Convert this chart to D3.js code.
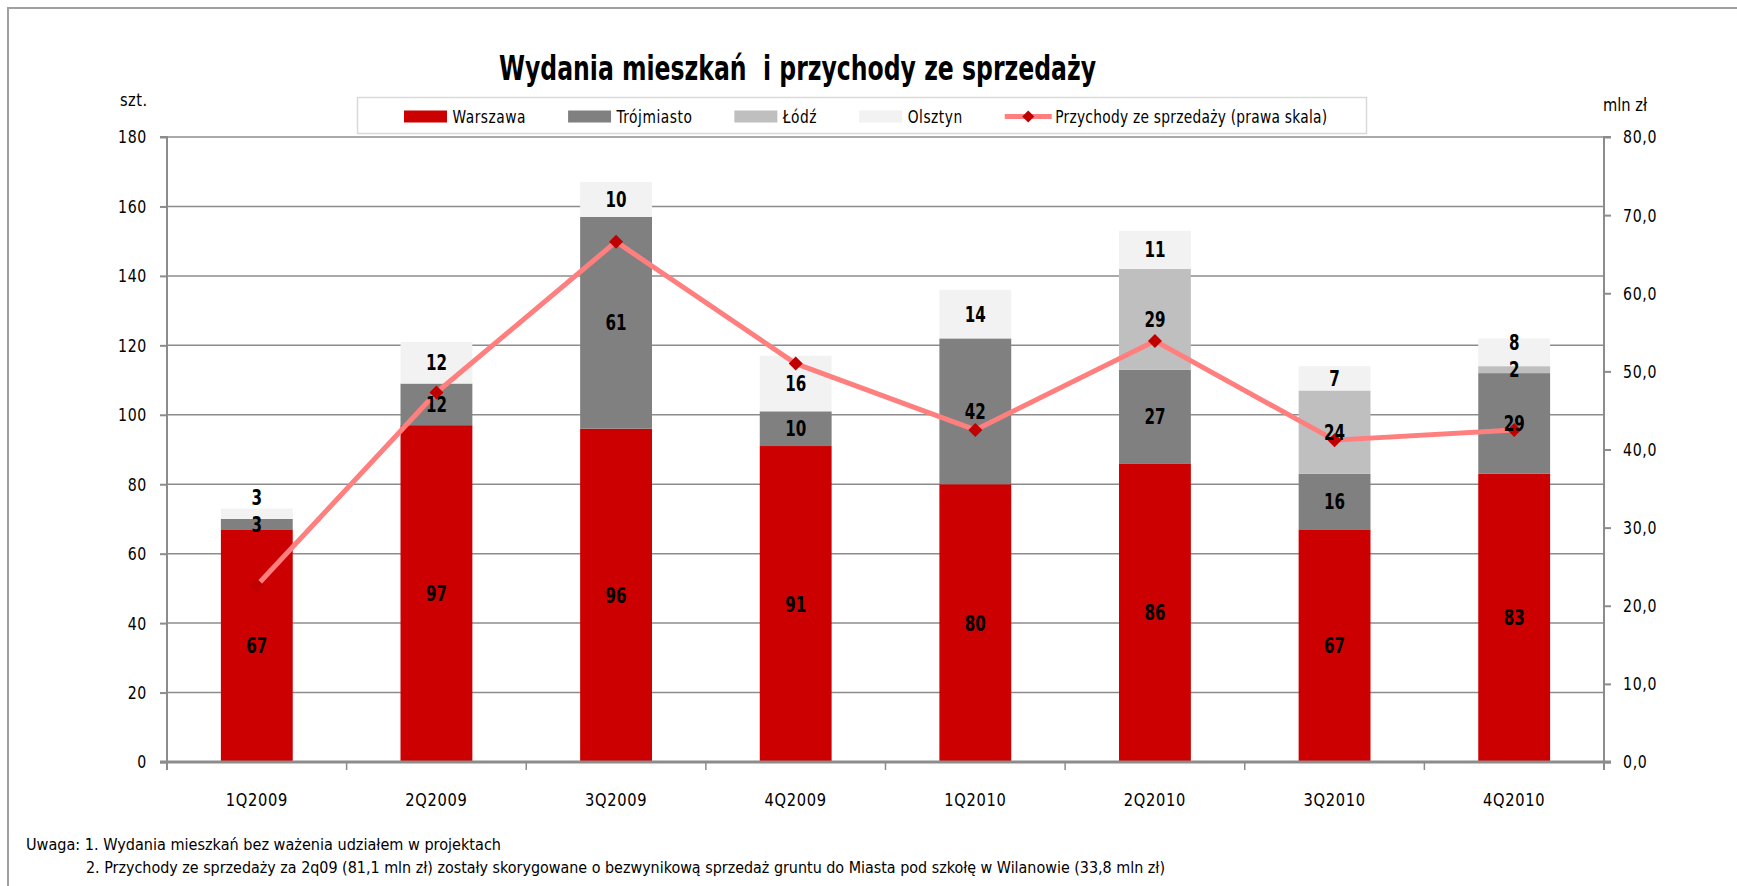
<!DOCTYPE html>
<html><head><meta charset="utf-8">
<script src="https://cdn.jsdelivr.net/npm/d3@7"></script>
<style>
html,body{margin:0;padding:0;background:#fff;overflow:hidden;}
svg{display:block;}
text{font-family:"Liberation Sans Narrow","DejaVu Sans Condensed","Arial Narrow",sans-serif;fill:#000;}
</style></head><body>
<svg id="chart" width="1737" height="886"></svg>
<script>
// ---- data ----
const categories = ["1Q2009","2Q2009","3Q2009","4Q2009","1Q2010","2Q2010","3Q2010","4Q2010"];
const warszawa   = [67, 97, 96, 91, 80, 86, 67, 83];
const trojmiasto = [3, 12, 61, 10, 42, 27, 16, 29];
const lodz       = [0, 0, 0, 0, 0, 29, 24, 2];
const olsztyn    = [3, 12, 10, 16, 14, 11, 7, 8];
const przychody  = [22.6, 47.3, 66.6, 51.0, 42.5, 53.9, 41.2, 42.5];
const seriesNames = ["Warszawa","Trójmiasto","Łódź","Olsztyn"];
const lineName = "Przychody ze sprzedaży (prawa skala)";
const leftTicks  = [0,20,40,60,80,100,120,140,160,180];
const rightTicks = [0,10,20,30,40,50,60,70,80];
const titleText = "Wydania mieszkań  i przychody ze sprzedaży";
const leftUnit = "szt.";
const rightUnit = "mln zł";
const note1 = "Uwaga: 1. Wydania mieszkań bez ważenia udziałem w projektach";
const note2 = "2. Przychody ze sprzedaży za 2q09 (81,1 mln zł) zostały skorygowane o bezwynikową sprzedaż gruntu do Miasta pod szkołę w Wilanowie (33,8 mln zł)";

// ---- styles ----
const colors = ["#CC0000","#808080","#BFBFBF","#F2F2F2"];
const lineColor = "#FF7F7F";
const markerColor = "#C00000";
const axisColor = "#8C8C8C";

// horizontally condense text glyphs (the original uses a condensed face)
function squeeze(sel, k){
  sel.each(function(){
    const len = this.getComputedTextLength();
    d3.select(this).attr("textLength", len*k).attr("lengthAdjust","spacingAndGlyphs");
  });
}

const svg = d3.select("#chart");
const plot = {left:167, right:1604, top:137, bottom:762};

// outer frame
svg.append("rect").attr("x",8).attr("y",8).attr("width",1760).attr("height",900)
  .attr("fill","none").attr("stroke","#A0A0A0").attr("stroke-width",2);

const x = d3.scaleBand().domain(categories).range([plot.left, plot.right])
  .paddingInner(0.6).paddingOuter(0.3);
const yL = d3.scaleLinear().domain([0,180]).range([plot.bottom, plot.top]);
const yR = d3.scaleLinear().domain([0,80]).range([plot.bottom, plot.top]);

// gridlines
svg.append("g").selectAll("line").data(leftTicks.filter(d=>d>0)).join("line")
  .attr("x1",plot.left).attr("x2",plot.right)
  .attr("y1",d=>yL(d)).attr("y2",d=>yL(d))
  .attr("stroke",axisColor).attr("stroke-width",1.5);

// stacked data
const table = categories.map((c,i)=>({cat:c, Warszawa:warszawa[i], "Trójmiasto":trojmiasto[i], "Łódź":lodz[i], Olsztyn:olsztyn[i]}));
const stack = d3.stack().keys(seriesNames)(table);

const barsG = svg.append("g");
stack.forEach((layer,si)=>{
  barsG.selectAll(null).data(layer).join("rect")
    .attr("x",d=>x(d.data.cat)).attr("width",x.bandwidth())
    .attr("y",d=>yL(d[1])).attr("height",d=>yL(d[0])-yL(d[1]))
    .attr("fill",colors[si]);
});

// axes
const fs = 18.5;
const lAxis = svg.append("g").attr("transform",`translate(${plot.left},0)`)
  .call(d3.axisLeft(yL).tickValues(leftTicks).tickSize(7).tickPadding(13).tickFormat(d3.format("d")));
const rAxis = svg.append("g").attr("transform",`translate(${plot.right},0)`)
  .call(d3.axisRight(yR).tickValues(rightTicks).tickSize(7).tickPadding(12)
    .tickFormat(d=>d3.format(".1f")(d).replace(".",",")));
[lAxis,rAxis].forEach(a=>{
  a.select(".domain").attr("stroke",axisColor).attr("stroke-width",2)
    .attr("d", a===lAxis ? `M-7,${plot.top}H0V${plot.bottom+8}` : `M7,${plot.top}H0V${plot.bottom+8}`);
  a.selectAll(".tick line").attr("stroke",axisColor).attr("stroke-width",2);
  const tt = a.selectAll(".tick text").attr("font-size",fs).attr("letter-spacing",0.8).attr("fill","#000")
    .attr("font-family",null);
  squeeze(tt, 0.85);
});
// bottom axis
const boundaries = d3.range(categories.length+1).map(i=>plot.left + i*x.step());
svg.append("g").selectAll("line").data(boundaries).join("line")
  .attr("x1",d=>d).attr("x2",d=>d).attr("y1",plot.bottom).attr("y2",plot.bottom+8)
  .attr("stroke",axisColor).attr("stroke-width",1.5);
svg.append("line").attr("x1",plot.left-7).attr("x2",plot.right+7)
  .attr("y1",plot.bottom).attr("y2",plot.bottom)
  .attr("stroke",axisColor).attr("stroke-width",3);
const xl = svg.append("g").selectAll("text").data(categories).join("text")
  .attr("x",d=>x(d)+x.bandwidth()/2).attr("y",806)
  .attr("text-anchor","middle").attr("font-size",fs).attr("letter-spacing",0.8)
  .text(d=>d);
squeeze(xl, 0.88);

// line series
const cx = i=>x(categories[i])+x.bandwidth()/2;
svg.append("path").datum(przychody)
  .attr("d",d3.line().x((d,i)=>cx(i)).y(d=>yR(d)))
  .attr("fill","none").attr("stroke",lineColor).attr("stroke-width",5)
  .attr("stroke-linejoin","round");
const diamond = "M0,-7L7,0L0,7L-7,0Z";
svg.append("g").selectAll("path").data(przychody).join("path")
  .attr("d",diamond).attr("transform",(d,i)=>`translate(${cx(i)},${yR(d)})`)
  .attr("fill",markerColor);

// data labels (centered; pushed up when overlapping the one below)
const labG = svg.append("g");
categories.forEach((c,i)=>{
  let prevY = Infinity;
  stack.forEach(layer=>{
    const d = layer[i];
    const v = d[1]-d[0];
    if (v<=0) return;
    let yy = yL((d[0]+d[1])/2);
    if (yy > prevY-27) yy = prevY-27;
    prevY = yy;
    labG.append("text").attr("x",cx(i)).attr("y",yy)
      .attr("dy","0.36em").attr("text-anchor","middle")
      .attr("font-size",21).attr("font-weight","bold").text(v);
  });
});
squeeze(labG.selectAll("text"), 0.8);

// title
svg.append("text").attr("x",797.5).attr("y",80).attr("text-anchor","middle")
  .attr("font-size",34).attr("font-weight","bold").style("white-space","pre")
  .attr("textLength",597).attr("lengthAdjust","spacingAndGlyphs").text(titleText);

// unit labels
squeeze(svg.append("text").attr("x",120).attr("y",106).attr("font-size",fs).attr("letter-spacing",0.5).text(leftUnit), 0.88);
squeeze(svg.append("text").attr("x",1603).attr("y",111).attr("font-size",fs).text(rightUnit), 0.88);

// legend
const lg = svg.append("g");
lg.append("rect").attr("x",357.5).attr("y",97.5).attr("width",1009).attr("height",36)
  .attr("fill","#fff").attr("stroke","#D9D9D9").attr("stroke-width",1.5);
let lx = 404;
const ly = 116.5;
seriesNames.forEach((n,i)=>{
  lg.append("rect").attr("x",lx).attr("y",ly-6).attr("width",43).attr("height",12).attr("fill",colors[i]);
  const t = lg.append("text").attr("x",lx+48.5).attr("y",ly+6).attr("font-size",17)
    .attr("letter-spacing",0.6).text(n);
  squeeze(t, 0.9);
  lx = lx + 48.5 + +t.attr("textLength") + 42;
});
lg.append("line").attr("x1",lx).attr("x2",lx+47).attr("y1",ly).attr("y2",ly)
  .attr("stroke",lineColor).attr("stroke-width",5);
lg.append("path").attr("d","M0,-6L6,0L0,6L-6,0Z").attr("transform",`translate(${lx+23.5},${ly})`).attr("fill",markerColor);
squeeze(lg.append("text").attr("x",lx+50.5).attr("y",ly+6).attr("font-size",17).attr("letter-spacing",0.3).text(lineName), 0.9);

// footnotes
svg.append("text").attr("x",26).attr("y",849.5).attr("font-size",16)
  .attr("textLength",475).attr("lengthAdjust","spacingAndGlyphs").text(note1);
svg.append("text").attr("x",86).attr("y",872.5).attr("font-size",16)
  .attr("textLength",1079).attr("lengthAdjust","spacingAndGlyphs").text(note2);
</script>
</body></html>
